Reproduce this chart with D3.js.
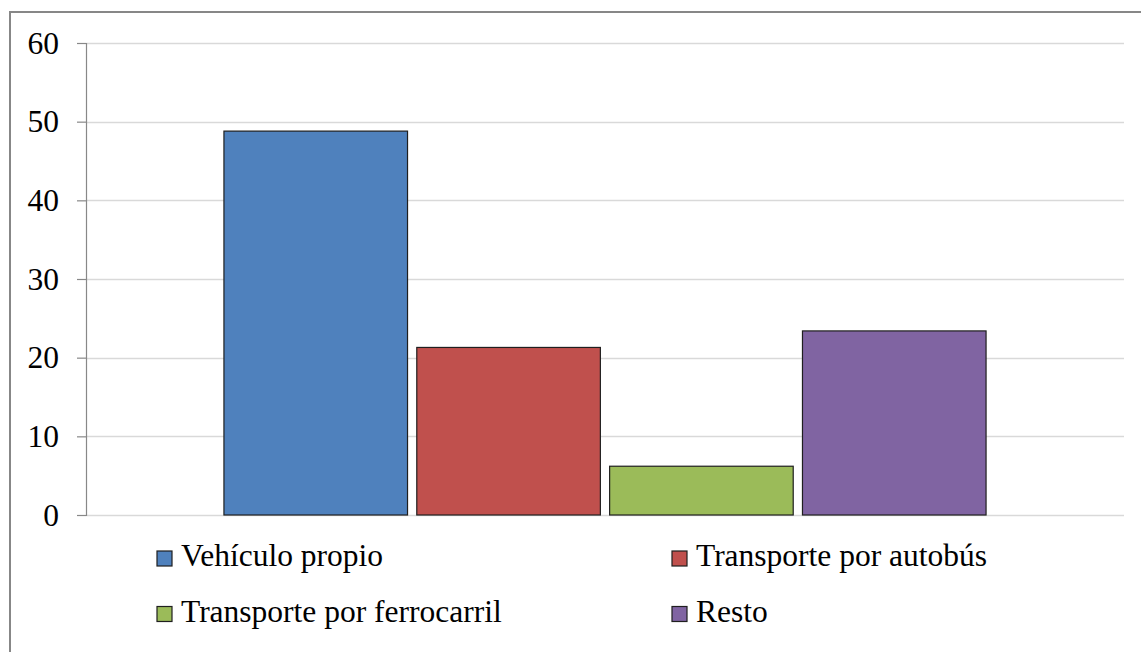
<!DOCTYPE html>
<html>
<head>
<meta charset="utf-8">
<script src="https://cdn.jsdelivr.net/npm/d3@7"></script>
<style>
  body { margin: 0; background: #fff; }
  svg text { font-family: "Liberation Serif", "DejaVu Serif", serif; fill: #000; }
</style>
</head>
<body>
<div id="chart"></div>
<script>
const categories = [""];
const seriesNames = ["Vehículo propio", "Transporte por autobús", "Transporte por ferrocarril", "Resto"];
const seriesValues = [48.8, 21.3, 6.2, 23.4];
const yTicks = [0, 10, 20, 30, 40, 50, 60];

const colors = ["#4f81bd", "#c0504d", "#9bbb59", "#8064a2"];
const serif = "'Liberation Serif', 'DejaVu Serif', serif";

const width = 1141, height = 652;
const plot = { left: 86, right: 1124, top: 43, bottom: 515 };

const svg = d3.select("#chart").append("svg")
  .attr("width", width)
  .attr("height", height);

// outer frame (runs off the right and bottom edges)
svg.append("rect")
  .attr("x", 10).attr("y", 12)
  .attr("width", 1200).attr("height", 700)
  .attr("fill", "none")
  .attr("stroke", "#878787")
  .attr("stroke-width", 2);

const y = d3.scaleLinear().domain([0, 60]).range([plot.bottom, plot.top]);

const x0 = d3.scaleBand()
  .domain(categories)
  .range([plot.left, plot.right])
  .paddingInner(0)
  .paddingOuter(0.181);

const x1 = d3.scaleBand()
  .domain(seriesNames)
  .range([0, x0.bandwidth()])
  .paddingInner(0.048);

// gridlines
svg.append("g")
  .selectAll("line")
  .data(yTicks)
  .join("line")
  .attr("x1", plot.left).attr("x2", plot.right)
  .attr("y1", d => Math.round(y(d)) + 0.5)
  .attr("y2", d => Math.round(y(d)) + 0.5)
  .attr("stroke", "#d9d9d9")
  .attr("stroke-width", 1.5);

// bars
const data = seriesNames.map((name, i) => ({ name, value: seriesValues[i], color: colors[i] }));
svg.append("g")
  .attr("transform", `translate(${x0(categories[0])},0)`)
  .selectAll("rect")
  .data(data)
  .join("rect")
  .attr("x", d => x1(d.name))
  .attr("y", d => y(d.value))
  .attr("width", x1.bandwidth())
  .attr("height", d => y(0) - y(d.value))
  .attr("fill", d => d.color)
  .attr("stroke", "#1f1f1f")
  .attr("stroke-width", 1.2);

// y axis
const yAxis = d3.axisLeft(y)
  .tickValues(yTicks)
  .tickSize(9)
  .tickPadding(18);

const gy = svg.append("g")
  .attr("transform", `translate(${plot.left},0)`)
  .call(yAxis)
  .attr("font-family", serif)
  .attr("font-size", 31.5);
gy.select(".domain").attr("stroke", "#888").attr("stroke-width", 1.2);
gy.selectAll(".tick line").attr("stroke", "#888").attr("stroke-width", 1.2);
gy.selectAll(".tick text")
  .style("font-family", serif)
  .style("font-size", "31.5px")
  .attr("fill", "#000");

// legend
const legendX = [157, 672];
const legendY = [566, 621.5];
const legend = svg.append("g")
  .selectAll("g")
  .data(data)
  .join("g")
  .attr("transform", (d, i) => `translate(${legendX[i % 2]},${legendY[Math.floor(i / 2)]})`);

legend.append("rect")
  .attr("x", 0).attr("y", -15)
  .attr("width", 15).attr("height", 15)
  .attr("fill", d => d.color)
  .attr("stroke", "#1f1f1f")
  .attr("stroke-width", 1.2);

legend.append("text")
  .attr("x", 24)
  .attr("y", 0)
  .style("font-family", serif)
  .style("font-size", "31.5px")
  .text(d => d.name);
</script>
</body>
</html>
